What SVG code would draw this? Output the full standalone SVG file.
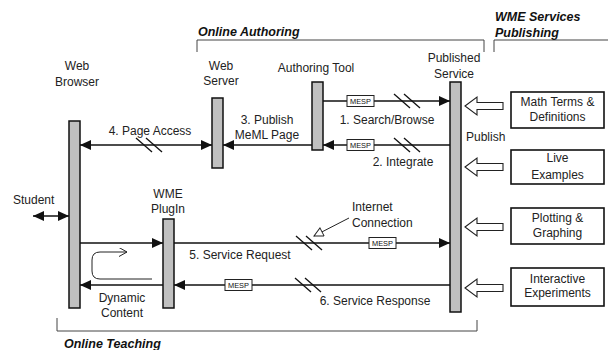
<svg xmlns="http://www.w3.org/2000/svg" width="608" height="350" viewBox="0 0 608 350">
<style>
text{font-family:"Liberation Sans",Arial,sans-serif;font-size:12px;fill:#222}
.c{text-anchor:middle}
.h{font-weight:bold;font-style:italic;font-size:12.5px;fill:#111}
.bar{fill:#c0c0c0;stroke:#111;stroke-width:1.5}
.ln{stroke:#111;stroke-width:1.6;fill:none}
.thin{stroke:#222;stroke-width:1;fill:none}
.brk{stroke:#444;stroke-width:1;fill:none}
.box{fill:#fff;stroke:#111;stroke-width:1.6}
.blk{fill:#fff;stroke:#222;stroke-width:1.1}
.mesp rect{fill:#fff;stroke:#222;stroke-width:1}
.mesp text{font-size:8px;text-anchor:middle;fill:#111}
.sl{stroke:#111;stroke-width:1.3}
</style>
<defs>
<marker id="ah" markerUnits="userSpaceOnUse" markerWidth="12" markerHeight="11" refX="11" refY="5" orient="auto-start-reverse">
<path d="M0,0 L11,5 L0,10 z" fill="#111"/>
</marker>
<marker id="open" markerUnits="userSpaceOnUse" markerWidth="12" markerHeight="12" refX="10" refY="5" orient="auto">
<path d="M1,0.5 L10,5 L1,9.5 z" fill="#fff" stroke="#222" stroke-width="1"/>
</marker>
<marker id="chev" markerUnits="userSpaceOnUse" markerWidth="10" markerHeight="10" refX="8" refY="4.5" orient="auto">
<path d="M0,0 L8,4.5 L0,9" fill="none" stroke="#222" stroke-width="1"/>
</marker>
<g id="slash"><line class="sl" x1="0" y1="0" x2="16" y2="14"/><line class="sl" x1="10" y1="0" x2="26" y2="14"/></g>
<g id="mespbox" class="mesp"><rect x="0" y="0" width="27" height="11"/><text x="13.5" y="8.6" textLength="21" lengthAdjust="spacingAndGlyphs">MESP</text></g>
</defs>

<!-- brackets / section labels -->
<g id="section-authoring">
<path class="brk" d="M197,52 V40 H484 V52"/>
<text class="h" x="198" y="36">Online Authoring</text>
</g>
<g id="section-publishing">
<path class="brk" d="M494,52 V40 H608"/>
<text class="h" x="495" y="21">WME Services</text>
<text class="h" x="495" y="37">Publishing</text>
</g>
<g id="section-teaching">
<path class="brk" d="M57,318 V331 H477 V320"/>
<text class="h" x="64" y="348">Online Teaching</text>
</g>

<!-- connectors -->
<g id="connectors">
<line class="ln" x1="323" y1="101" x2="450" y2="101" marker-end="url(#ah)"/>
<line class="ln" x1="450" y1="145" x2="323" y2="145" marker-end="url(#ah)"/>
<line class="ln" x1="312" y1="145" x2="223" y2="145" marker-end="url(#ah)"/>
<line class="ln" x1="80" y1="145" x2="212" y2="145" marker-start="url(#ah)" marker-end="url(#ah)"/>
<line class="ln" x1="33" y1="216" x2="69" y2="216" marker-start="url(#ah)" marker-end="url(#ah)"/>
<line class="ln" x1="80" y1="243" x2="163" y2="243" marker-end="url(#ah)"/>
<line class="ln" x1="163" y1="285" x2="80" y2="285" marker-end="url(#ah)"/>
<line class="ln" x1="174" y1="243" x2="450" y2="243" marker-end="url(#ah)"/>
<line class="ln" x1="450" y1="285" x2="174" y2="285" marker-end="url(#ah)"/>
<path class="thin" d="M152,279 H100 Q92,279 92,271 V260 Q92,252 100,252 H127" marker-end="url(#chev)"/>
<line class="thin" x1="349" y1="218" x2="314" y2="236" marker-end="url(#open)"/>
<!-- break marks -->
<use href="#slash" x="394" y="94"/>
<use href="#slash" x="394" y="138"/>
<use href="#slash" x="136" y="138"/>
<use href="#slash" x="296" y="236"/>
<use href="#slash" x="295" y="278"/>
<!-- MESP tags -->
<use href="#mespbox" x="347" y="95.5"/>
<use href="#mespbox" x="347" y="139.5"/>
<use href="#mespbox" x="369" y="237.5"/>
<use href="#mespbox" x="225" y="279.5"/>
<!-- labels -->
<text class="c" x="387" y="124">1. Search/Browse</text>
<text class="c" x="403" y="166">2. Integrate</text>
<text class="c" x="267" y="124">3. Publish</text>
<text class="c" x="267" y="139">MeML Page</text>
<text class="c" x="150" y="135">4. Page Access</text>
<text class="c" x="240" y="259">5. Service Request</text>
<text class="c" x="375" y="305">6. Service Response</text>
<text x="352" y="211">Internet</text>
<text x="352" y="227">Connection</text>
<text class="c" x="122" y="302">Dynamic</text>
<text class="c" x="122" y="317">Content</text>
<text x="466" y="141">Publish</text>
<!-- publish block arrows -->
<path class="blk" d="M465,106 L477,97 V102.5 H503 V109.5 H477 V115 Z"/>
<path class="blk" d="M465,167 L477,158 V163.5 H503 V170.5 H477 V176 Z"/>
<path class="blk" d="M465,227 L477,218 V223.5 H503 V230.5 H477 V236 Z"/>
<path class="blk" d="M465,288 L477,279 V284.5 H503 V291.5 H477 V297 Z"/>
</g>

<!-- nodes -->
<g id="web-browser">
<text class="c" x="77" y="70">Web</text>
<text class="c" x="77" y="86">Browser</text>
<rect class="bar" x="69" y="121" width="11" height="187"/>
</g>
<g id="web-server">
<text class="c" x="221" y="70">Web</text>
<text class="c" x="221" y="85">Server</text>
<rect class="bar" x="212" y="98" width="11" height="70"/>
</g>
<g id="authoring-tool">
<text class="c" x="316" y="72">Authoring Tool</text>
<rect class="bar" x="312" y="82" width="11" height="68"/>
</g>
<g id="published-service">
<text class="c" x="454" y="62">Published</text>
<text class="c" x="454" y="78">Service</text>
<rect class="bar" x="450" y="82" width="11" height="230"/>
</g>
<g id="wme-plugin">
<text class="c" x="168" y="198">WME</text>
<text class="c" x="168" y="213">PlugIn</text>
<rect class="bar" x="163" y="219" width="11" height="89"/>
</g>
<g id="student">
<text x="13" y="204">Student</text>
</g>
<g id="math-terms">
<rect class="box" x="511" y="92" width="93" height="36"/>
<text class="c" x="557.5" y="106">Math Terms &amp;</text>
<text class="c" x="557.5" y="121">Definitions</text>
</g>
<g id="live-examples">
<rect class="box" x="511" y="150" width="93" height="34"/>
<text class="c" x="557.5" y="162">Live</text>
<text class="c" x="557.5" y="179">Examples</text>
</g>
<g id="plotting-graphing">
<rect class="box" x="511" y="208" width="93" height="36"/>
<text class="c" x="557.5" y="222">Plotting &amp;</text>
<text class="c" x="557.5" y="237">Graphing</text>
</g>
<g id="interactive-experiments">
<rect class="box" x="511" y="268" width="93" height="38"/>
<text class="c" x="557.5" y="283">Interactive</text>
<text class="c" x="557.5" y="297">Experiments</text>
</g>
</svg>
